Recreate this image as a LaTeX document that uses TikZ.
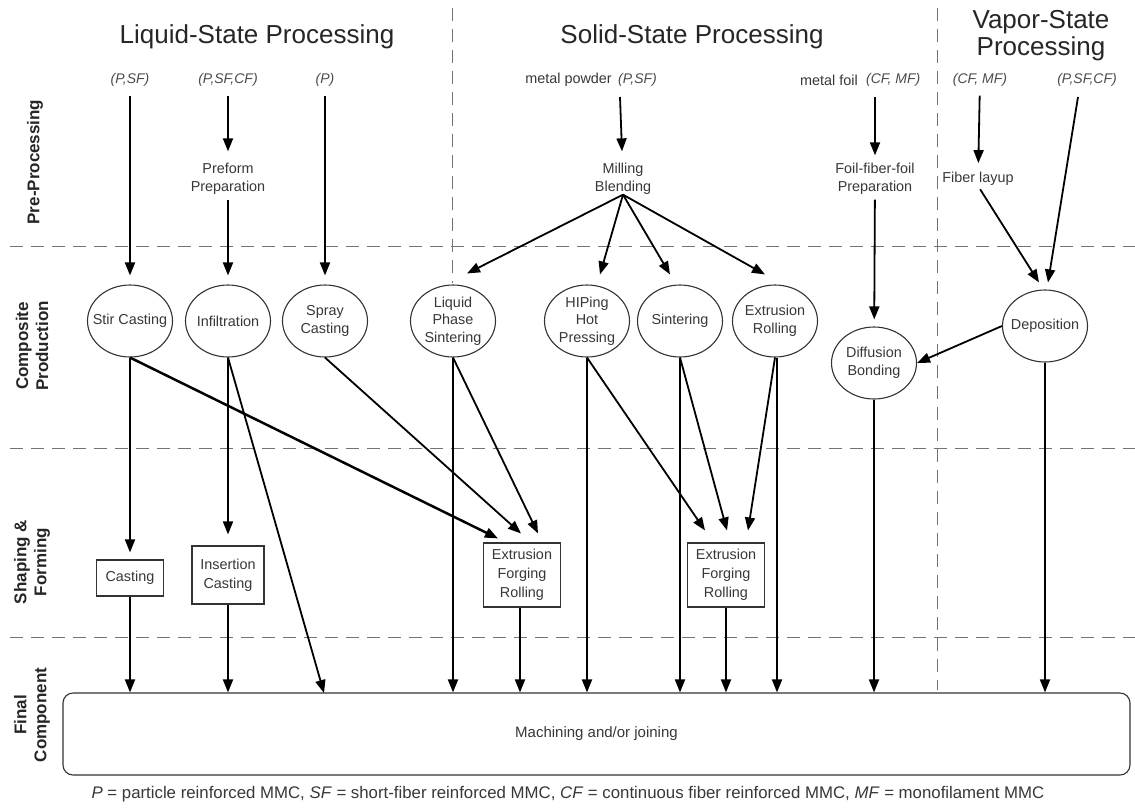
\documentclass[tikz,border=0pt]{standalone}
\usepackage{fontspec}
\setmainfont{Liberation Sans}
\usetikzlibrary{arrows.meta,shapes.geometric,calc}
\begin{document}
\begin{tikzpicture}[x=1pt,y=-1pt,
 tx/.style={text=black!78,font=\fontsize{14.4}{17.5}\selectfont,align=center,inner sep=0pt},
 ell/.style={ellipse,draw=black!80,line width=1.1pt,minimum width=85pt,minimum height=72pt,inner sep=0pt},
 bx/.style={rectangle,draw=black!80,line width=1.1pt,text=black!78,font=\fontsize{14.4}{19}\selectfont,align=center,inner sep=0pt},
 arr/.style={-{Triangle[length=13pt,width=10pt]},line width=1.8pt},
 grid/.style={draw=black!55,line width=0.9pt,dash pattern=on 13pt off 8pt},
 inl/.style={text=black!70,font=\fontsize{14}{17}\selectfont\itshape,inner sep=0pt},
 rowlab/.style={rotate=90,font=\fontsize{17}{20}\selectfont\bfseries,text=black!85,align=center},
 ttl/.style={text=black!85,font=\fontsize{26}{27}\selectfont,align=center}
]
\useasboundingbox[fill=white] (0,0) rectangle (1135,807);

% grid
\draw[grid] (10,246) -- (1135,246);
\draw[grid] (10,448) -- (1135,448);
\draw[grid] (10,637) -- (1135,637);
\draw[grid] (452,8) -- (452,283);
\draw[grid] (937,8) -- (937,690);

% titles
\node[ttl] (t1) at (257,37) {Liquid-State Processing};
\node[ttl] (t2) at (692,37) {Solid-State Processing};
\node[ttl] (t3) at (1041,36) {Vapor-State\\Processing};

% row labels
\node[rowlab] (r1) at (35,162) {Pre-Processing};
\node[rowlab] (r2) at (32,346) {Composite\\Production};
\node[rowlab] (r3) at (32,562) {Shaping \&\\Forming};
\node[rowlab] (r4) at (32,715) {Final\\Component};

% input labels
\node[inl] (i1) at (130,80) {(P,SF)};
\node[inl] (i2) at (228,80) {(P,SF,CF)};
\node[inl] (i3) at (325,80) {(P)};
\node[tx,anchor=east] (i4a) at (612,80) {metal powder};
\node[inl,anchor=west] (i4b) at (618,80) {(P,SF)};
\node[tx,anchor=east] (i5a) at (858,80) {metal foil};
\node[inl,anchor=west] (i5b) at (866,80) {(CF, MF)};
\node[inl] (i6) at (980,80) {(CF, MF)};
\node[inl] (i7) at (1087,80) {(P,SF,CF)};
\coordinate (c4) at (620,97);
\coordinate (c5) at (875,97);
\coordinate (c7) at (1078,97);

% pre-processing
\node[tx] (pp) at (228,179) {Preform\\Preparation};
\node[tx] (mb) at (623,179) {Milling\\Blending};
\node[tx] (ff) at (875,179) {Foil-fiber-foil\\Preparation};
\node[tx] (fl) at (978,179) {Fiber layup};

% composite production
\node[ell] (stir) at (130,321) {};  \node[tx] (stirT) at (stir) {Stir Casting};
\node[ell] (inf) at (228,321) {};   \node[tx] (infT) at (inf) {Infiltration};
\node[ell] (spray) at (325,321) {}; \node[tx] (sprayT) at (spray) {Spray\\Casting};
\node[ell] (lps) at (453,321) {};   \node[tx] (lpsT) at (lps) {Liquid\\Phase\\Sintering};
\node[ell] (hip) at (587,321) {};   \node[tx] (hipT) at (hip) {HIPing\\Hot\\Pressing};
\node[ell] (sin) at (680,321) {};   \node[tx] (sinT) at (sin) {Sintering};
\node[ell] (er) at (775,321) {};    \node[tx] (erT) at (er) {Extrusion\\Rolling};
\node[ell] (df) at (874,363) {};    \node[tx] (dfT) at (df) {Diffusion\\Bonding};
\node[ell] (dep) at (1045,326) {};  \node[tx] (depT) at (dep) {Deposition};

% shaping & forming
\node[bx,minimum width=67pt,minimum height=36pt] (cast) at (130,578) {Casting};
\node[bx,minimum width=72pt,minimum height=58pt] (ins) at (228,575) {Insertion\\Casting};
\node[bx,minimum width=77pt,minimum height=64pt] (efr1) at (522,575) {Extrusion\\Forging\\Rolling};
\node[bx,minimum width=77pt,minimum height=64pt] (efr2) at (726,575) {Extrusion\\Forging\\Rolling};

% final component
\node[draw=black!80,line width=1.1pt,rounded corners=10pt,minimum width=1067pt,minimum height=82pt,tx,font=\fontsize{15}{17}\selectfont] (fc) at (596.5,734) {Machining and/or joining};
\coordinate (f3) at (324,693);

% footer
\node[tx,font=\fontsize{16.8}{19}\selectfont] (foot) at (568,794) {\textit{P} = particle reinforced MMC, \textit{SF} = short-fiber reinforced MMC, \textit{CF} = continuous fiber reinforced MMC, \textit{MF} = monofilament MMC};

% pre-processing arrows
\draw[arr,shorten <=9pt,shorten >=12pt] (i2) -- (pp);
\draw[arr,shorten >=12pt] (c4) -- (mb);
\draw[arr,shorten >=8pt] (c5) -- (ff);
\draw[arr,shorten <=9pt,shorten >=9pt] (i6) -- (fl);

% into composite production
\draw[arr,shorten <=9pt,shorten >=9pt] (i1) -- (stir);
\draw[arr,shorten <=5pt,shorten >=9pt] (pp) -- (inf);
\draw[arr,shorten <=9pt,shorten >=9pt] (i3) -- (spray);
\draw[arr] (mb.south) -- ([shift={(14,-11)}]lps.north);
\draw[arr] (mb.south) -- ([shift={(13,-10)}]hip.north);
\draw[arr] (mb.south) -- ([shift={(-10,-10)}]sin.north);
\draw[arr] (mb.south) -- ([shift={(-10,-10)}]er.north);
\draw[arr,shorten <=5pt,shorten >=7pt] (ff) -- (df);
\draw[arr,shorten <=4pt] (fl.south) -- ([shift={(-6,-7)}]dep.north);
\draw[arr] (c7) -- ([shift={(3,-7)}]dep.north);
\draw[arr] (dep.west) -- (df.east);

% into shaping & forming
\draw[arr,shorten >=7pt] (stir) -- (cast);
\draw[arr,shorten >=11pt] (inf) -- (ins);
\draw[arr,line width=2.5pt] (stir.south) -- ([shift={(-24,-4)}]efr1.north);
\draw[arr] (spray.south) -- ([shift={(-1,-9)}]efr1.north);
\draw[arr] (lps.south) -- ([shift={(16,-9)}]efr1.north);
\draw[arr] (hip.south) -- ([shift={(-21,-12)}]efr2.north);
\draw[arr] (sin.south) -- ([shift={(1,-12)}]efr2.north);
\draw[arr] (er.south) -- ([shift={(22,-12)}]efr2.north);

% into final component
\draw[arr] (cast) -- (cast |- fc.north);
\draw[arr] (ins) -- (ins |- fc.north);
\draw[arr] (inf.south) -- (f3);
\draw[arr] (lps) -- (lps |- fc.north);
\draw[arr] ([xshift=-2pt]efr1.south) -- ([xshift=-2pt]efr1.south |- fc.north);
\draw[arr] (hip) -- (hip |- fc.north);
\draw[arr] (sin) -- (sin |- fc.north);
\draw[arr] (efr2) -- (efr2 |- fc.north);
\draw[arr] ([xshift=2pt]er.south) -- ([xshift=2pt]er.south |- fc.north);
\draw[arr] (df) -- (df |- fc.north);
\draw[arr] (dep) -- (dep |- fc.north);
\end{tikzpicture}
\end{document}
